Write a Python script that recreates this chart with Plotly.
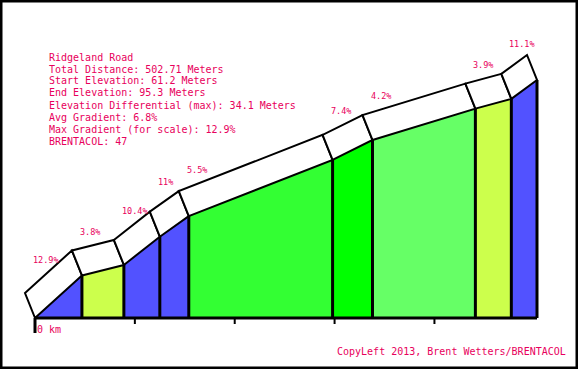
import plotly.graph_objects as go

# ---- data ----
distance_m = [0, 47, 89, 125, 154, 298, 338, 441, 477, 502.71]
elevation_m = [61.2, 67.3, 68.8, 72.85, 75.8, 83.85, 86.7, 91.2, 92.6, 95.3]
gradient_labels = ["12.9%", "3.8%", "10.4%", "11%", "5.5%", "7.4%", "4.2%", "3.9%", "11.1%"]
gradient_values = [12.9, 3.8, 10.4, 11.0, 5.5, 7.4, 4.2, 3.9, 11.1]
segment_colors = ["#5252FF", "#CCFF4C", "#5252FF", "#5252FF", "#33FF33",
                  "#00FF00", "#66FF66", "#CCFF4C", "#5252FF"]
tick_values = [0, 100, 200, 300, 400]
info_lines = [
    "Ridgeland Road",
    "Total Distance: 502.71 Meters",
    "Start Elevation: 61.2 Meters",
    "End Elevation: 95.3 Meters",
    "Elevation Differential (max): 34.1 Meters",
    "Avg Gradient: 6.8%",
    "Max Gradient (for scale): 12.9%",
    "BRENTACOL: 47",
]
footer = "CopyLeft 2013, Brent Wetters/BRENTACOL"

# ---- layout geometry ----
W, H = 578, 369
x_left_px, base_px, top_px = 35, 318, 80
sx = 502 / (distance_m[-1] - distance_m[0])
sy = (base_px - top_px) / (elevation_m[-1] - elevation_m[0])
base = elevation_m[0]
x_range = [-x_left_px / sx, (W - x_left_px) / sx]
y_range = [base - (H - base_px) / sy, elevation_m[-1] + top_px / sy]
ox, oy = -10 / sx, 25 / sy   # band offset (up-left)

TXT = "#E8005C"
FONT = "DejaVu Sans Mono"

fig = go.Figure()

# coloured segments
for i in range(len(distance_m) - 1):
    x0, x1 = distance_m[i], distance_m[i + 1]
    y0, y1 = elevation_m[i], elevation_m[i + 1]
    fig.add_trace(go.Scatter(
        x=[x0, x0, x1, x1, x0], y=[base, y0, y1, base, base],
        fill="toself", fillcolor=segment_colors[i], mode="none",
        hoverinfo="skip", showlegend=False))

# white band on top
for i in range(len(distance_m) - 1):
    x0, x1 = distance_m[i], distance_m[i + 1]
    y0, y1 = elevation_m[i], elevation_m[i + 1]
    fig.add_trace(go.Scatter(
        x=[x0, x1, x1 + ox, x0 + ox, x0], y=[y0, y1, y1 + oy, y0 + oy, y0],
        fill="toself", fillcolor="white", mode="lines",
        line=dict(color="black", width=2), hoverinfo="skip", showlegend=False))

# vertical separators
for i in range(1, len(distance_m)):
    fig.add_trace(go.Scatter(
        x=[distance_m[i], distance_m[i]], y=[base, elevation_m[i]],
        mode="lines", line=dict(color="black", width=3),
        hoverinfo="skip", showlegend=False))

# baseline
fig.add_trace(go.Scatter(
    x=[distance_m[0], distance_m[-1]], y=[base, base], mode="lines",
    line=dict(color="black", width=3), hoverinfo="skip", showlegend=False))

# ticks
for t in tick_values:
    ln = 15 if t == 0 else 6
    fig.add_trace(go.Scatter(
        x=[t, t], y=[base, base - ln / sy], mode="lines",
        line=dict(color="black", width=2 if t else 3),
        hoverinfo="skip", showlegend=False))

ann = []
# gradient labels
for i, lab in enumerate(gradient_labels):
    ann.append(dict(x=distance_m[i], y=elevation_m[i], text=lab, showarrow=False,
                    xanchor="left", yanchor="middle", xshift=-4,
                    yshift=25 + 12 + 1.63 * gradient_values[i],
                    font=dict(family=FONT, size=8.5, color=TXT)))
# 0 km
ann.append(dict(x=0, y=base, text="0 km", showarrow=False, xanchor="left",
                yanchor="middle", xshift=0, yshift=-11,
                font=dict(family=FONT, size=10, color=TXT)))
# info block
for k, line in enumerate(info_lines):
    ann.append(dict(x=47 / W, y=1 - (57 + 12 * k) / H, xref="paper", yref="paper",
                    text=line, showarrow=False, xanchor="left", yanchor="middle",
                    font=dict(family=FONT, size=10, color=TXT)))
ann.append(dict(x=568 / W, y=1 - 351 / H, xref="paper", yref="paper",
                text=footer, showarrow=False, xanchor="right", yanchor="middle",
                font=dict(family=FONT, size=10, color=TXT)))

fig.update_layout(
    width=W, height=H, margin=dict(l=0, r=0, t=0, b=0),
    paper_bgcolor="white", plot_bgcolor="white",
    xaxis=dict(range=x_range, visible=False, fixedrange=True),
    yaxis=dict(range=y_range, visible=False, fixedrange=True),
    annotations=ann,
    shapes=[dict(type="rect", xref="paper", yref="paper", x0=0, y0=0, x1=1, y1=1,
                 line=dict(color="black", width=5), layer="above")],
    showlegend=False,
)

fig.write_html("out.html", config={"displayModeBar": False},
               post_script="document.body.style.margin='0';document.body.style.overflow='hidden';")
